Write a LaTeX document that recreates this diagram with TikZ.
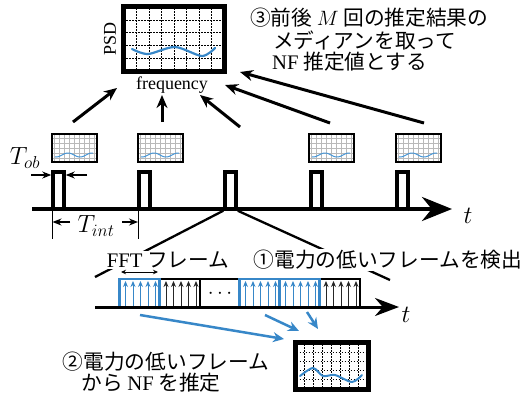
\documentclass[tikz,border=0pt]{standalone}
\usepackage{fontspec}
\setmainfont{Liberation Serif}
\newfontfamily\cjk{Noto Sans CJK JP}
\usetikzlibrary{arrows.meta}
\definecolor{myblue}{RGB}{55,135,200}
\definecolor{lightwave}{RGB}{70,150,215}
\tikzset{
  jp/.style={font=\cjk\fontsize{20.7}{25}\selectfont, inner sep=1pt},
  mathlbl/.style={font=\fontsize{25}{29}\selectfont, inner sep=0pt},
  dgrid/.style={black, line width=0.6pt, dash pattern=on 1.6pt off 1.4pt},
  sgrid/.style={gray!55, line width=0.5pt},
  bwave/.style={myblue, line width=2.2pt, line cap=round},
  swave/.style={lightwave, line width=1pt},
  bigbox/.style={draw, line width=5pt, inner sep=0pt, minimum width=101pt, minimum height=65pt},
  botbox/.style={draw, line width=5pt, inner sep=0pt, minimum width=73pt, minimum height=47pt},
  sbox/.style={draw, line width=2pt, inner sep=0pt, minimum width=45pt, minimum height=28pt},
  pulsebox/.style={draw, line width=3.5pt, inner sep=0pt, minimum width=11pt, minimum height=37pt},
  uparr/.style={line width=3pt, -{Stealth[length=13pt,width=11pt]}},
  bluearr/.style={myblue, line width=2.5pt, -{Stealth[length=11pt,width=10pt]}},
  thinarr/.style={line width=1.3pt, -{Stealth[length=9pt,width=7pt]}},
  zoomline/.style={line width=2.3pt},
  frameK/.style={draw=black, line width=2.2pt, inner sep=0pt, minimum width=40pt, minimum height=28pt},
  frameB/.style={draw=myblue, line width=2.5pt, inner sep=0pt, minimum width=40pt, minimum height=28pt},
  farrK/.style={black!85, line width=0.9pt, -{Stealth[length=6pt,width=5pt]}},
  farrB/.style={myblue, line width=0.9pt, -{Stealth[length=6pt,width=5pt]}},
}
\newcommand\mysmallbox[3]{%
  \begin{scope}[shift={(#2,#3)}]
    \foreach \xx in {-20,-15,...,20} \draw[sgrid] (\xx,-13) -- (\xx,13);
    \foreach \yy in {-10,-5,...,10} \draw[sgrid] (-22,\yy) -- (22,\yy);
    \draw[swave] plot[domain=-19:19, samples=40, smooth] (\x,{7+2*sin(\x*15)});
  \end{scope}
  \node[sbox] (#1) at (#2,#3) {};
}
\newcommand\myframearrows[3]{%
  \foreach \dx in {6,13.5,21,28.5,36} \draw[#3] (#1+\dx,306) -- (#1+\dx,#2);
}
\begin{document}
\begin{tikzpicture}[x=1pt,y=-1pt]
\useasboundingbox (0,0) rectangle (524,394);

% ---------- big PSD box ----------
\begin{scope}[shift={(174,39)}]
  \foreach \xx in {-37.5,-25,-12.5,0,12.5,25,37.5} \draw[dgrid] (\xx,-31) -- (\xx,31);
  \foreach \yy in {-19,-6.3,6.3,19} \draw[dgrid] (-48,\yy) -- (48,\yy);
  \draw[bwave] plot[smooth] coordinates {(-42,10) (-26,15) (1,8) (28,17) (41,9)};
\end{scope}
\node[bigbox] (psd) at (174,39) {};
\node[rotate=90, font=\fontsize{18}{20}\selectfont, inner sep=0pt] (psdlbl) at (110,39) {PSD};
\node[font=\fontsize{18}{20}\selectfont, inner sep=0pt] (freq) at (172,85) {frequency};

% ---------- step 3 text ----------
\node[jp, anchor=west] (t3a) at (249,18) {③前後 $M$ 回の推定結果の};
\node[jp, anchor=west] (t3b) at (272,40) {メディアンを取って};
\node[jp, anchor=west] (t3c) at (271,62) {{\rmfamily NF} 推定値とする};

% ---------- small boxes ----------
\mysmallbox{s1}{74}{148}
\mysmallbox{s2}{160}{148}
\mysmallbox{s4}{331}{148}
\mysmallbox{s5}{418}{148}

% ---------- arrows to PSD ----------
\coordinate (a1s) at (73,122);  \coordinate (a1e) at (117,88);
\coordinate (a2s) at (162,122); \coordinate (a2e) at (162,95);
\coordinate (a3s) at (240,127); \coordinate (a3e) at (200,95);
\coordinate (a4s) at (330,123); \coordinate (a4e) at (225,85);
\coordinate (a5s) at (424,123); \coordinate (a5e) at (240,72);
\draw[uparr] (a1s) -- (a1e);
\draw[uparr] (a2s) -- (a2e);
\draw[uparr] (a3s) -- (a3e);
\draw[uparr] (a4s) -- (a4e);
\draw[uparr] (a5s) -- (a5e);

% ---------- main time axis ----------
\coordinate (ax0) at (32,209);
\coordinate (ax1) at (452,209);
\draw[line width=4pt, -{Stealth[length=30pt,width=24pt]}] (ax0) -- (ax1);
\node[font=\fontsize{26}{30}\selectfont] (tlbl) at (468,216) {$t$};

% pulses
\node[pulsebox] (p1) at (58.5,190.5) {};
\node[pulsebox] (p2) at (144.5,190.5) {};
\node[pulsebox] (p3) at (230.5,190.5) {};
\node[pulsebox] (p4) at (316.5,190.5) {};
\node[pulsebox] (p5) at (402.5,190.5) {};

% T_ob
\node[mathlbl] (tob) at (25,158) {$T_{ob}$};
\coordinate (tobl) at (31,175);
\coordinate (tobr) at (87,175);
\draw[thinarr] (tobl) -- (p1.west |- tobl);
\draw[thinarr] (tobr) -- (p1.east |- tobr);

% T_int
\coordinate (ti1t) at (52.5,209); \coordinate (ti1b) at (52.5,239);
\coordinate (ti2t) at (138,209);  \coordinate (ti2b) at (138,239);
\draw[line width=0.7pt] (ti1t) -- (ti1b);
\draw[line width=0.7pt] (ti2t) -- (ti2b);
\node[mathlbl] (tint) at (96,226) {$T_{int}$};
\coordinate (tiL) at (70,222); \coordinate (tiR) at (122,222);
\draw[thinarr] (tiL) -- (ti1t |- tiL);
\draw[thinarr] (tiR) -- (ti2t |- tiR);

% ---------- zoom lines ----------
\coordinate (zl) at (95,277);
\coordinate (zr) at (390,280);
\draw[zoomline] (p3.south west) -- (zl);
\draw[zoomline] (p3.south east) -- (zr);
\node[jp, fill=white] (fftlbl) at (168,260) {{\rmfamily FFT} フレーム};
\node[jp, fill=white] (t1) at (388,260) {①電力の低いフレームを検出};

% ---------- lower frames ----------
\node[frameK] (f2) at (180,293) {};
\node[frameK] (fd) at (220,293) {};
\node[frameK] (f6) at (340,293) {};
\node[inner sep=0pt, font=\fontsize{20}{22}\selectfont] (dots) at (220,294) {$\cdots$};
\myframearrows{160}{281}{farrK}
\myframearrows{320}{281}{farrK}
\myframearrows{119.5}{281}{farrB}
\myframearrows{239.5}{281}{farrB}
\myframearrows{279.5}{281}{farrB}
\node[frameB] (f1) at (139.5,293) {};
\node[frameB] (f3) at (259.5,293) {};
\node[frameB] (f4) at (299.5,293) {};

\coordinate (fa) at (121,272); \coordinate (fb) at (158,272);
\draw[line width=1pt, {Stealth[length=5pt,width=4.5pt]}-{Stealth[length=5pt,width=4.5pt]}] (fa) -- (fb);

% lower axis
\coordinate (lx0) at (95,307);
\coordinate (lx1) at (399,307);
\draw[line width=3pt, -{Stealth[length=24pt,width=18pt]}] (lx0) -- (lx1);
\node[font=\fontsize{26}{30}\selectfont] (tlbl2) at (406,315) {$t$};

% ---------- blue arrows & bottom box ----------
\begin{scope}[shift={(331.5,366)}]
  \foreach \xx in {-27,-18,-9,0,9,18,27} \draw[dgrid] (\xx,-22) -- (\xx,22);
  \foreach \yy in {-14,-5,4,13} \draw[dgrid] (-35,\yy) -- (35,\yy);
  \draw[bwave, line width=2pt] plot[smooth] coordinates {(-31.5,10) (-18.5,2) (-8.5,10) (3.5,9) (20.5,16) (30.5,9)};
\end{scope}
\node[botbox] (nf) at (331.5,366) {};

\coordinate (b1s) at (140,315); \coordinate (b1e) at (284,339);
\coordinate (b2s) at (265,315); \coordinate (b2e) at (299,331);
\coordinate (b3s) at (307,312); \coordinate (b3e) at (318,329);
\draw[bluearr] (b1s) -- (b1e);
\draw[bluearr] (b2s) -- (b2e);
\draw[bluearr] (b3s) -- (b3e);

\node[jp] (t2a) at (166,362) {②電力の低いフレーム};
\node[jp] (t2b) at (151,383) {から {\rmfamily NF} を推定};
\end{tikzpicture}
\end{document}
